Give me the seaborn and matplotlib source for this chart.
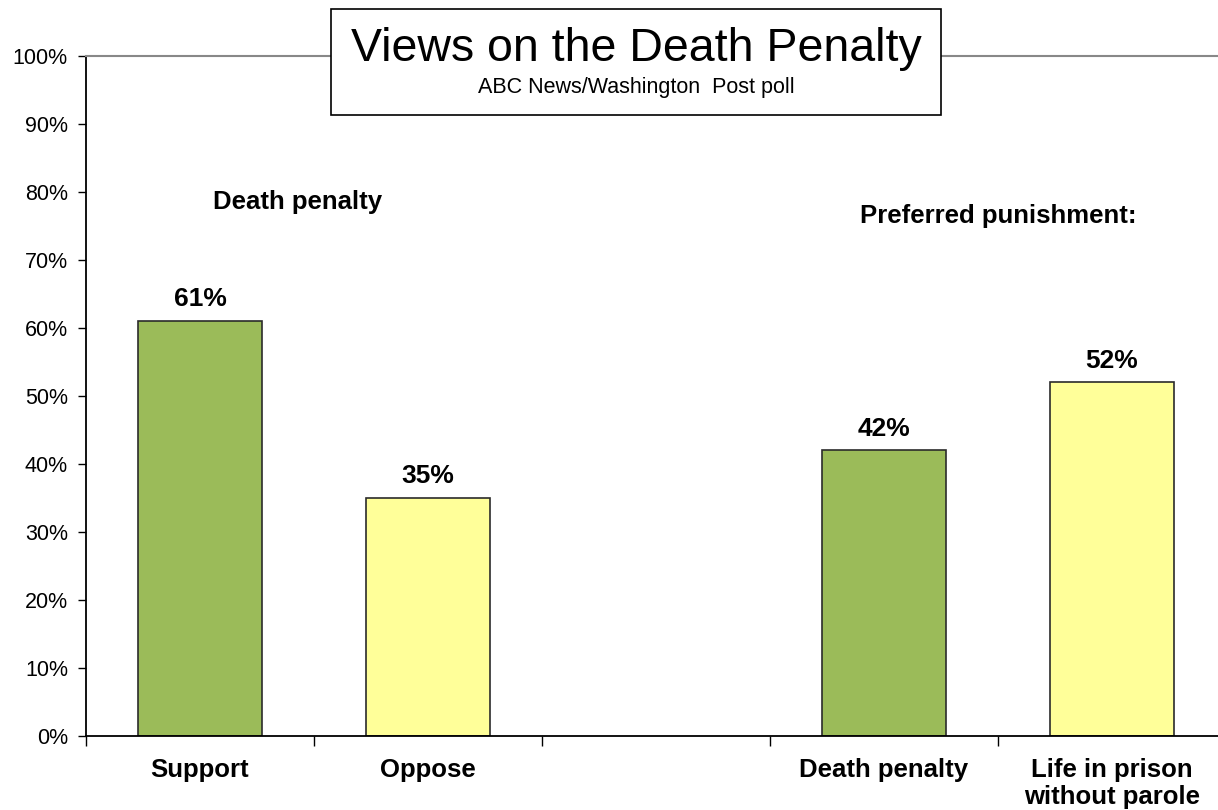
import numpy as np
import pandas as pd
import matplotlib.pyplot as plt
import seaborn as sns
from matplotlib.ticker import FixedLocator

# data
categories = ["Support", "Oppose", "Death penalty", "Life in prison\nwithout parole"]
values = [61, 35, 42, 52]
groups = ["pro", "con", "pro", "con"]
slot_order = ["Support", "Oppose", " ", "Death penalty", "Life in prison\nwithout parole"]
section_labels = ["Death penalty", "Preferred punishment:"]
y_ticks = [0, 10, 20, 30, 40, 50, 60, 70, 80, 90, 100]

sns.set_style("white")
plt.rcParams['font.family'] = ['Liberation Sans', 'DejaVu Sans']
plt.rcParams['text.color'] = 'black'
plt.rcParams['xtick.color'] = 'black'
plt.rcParams['ytick.color'] = 'black'

df = pd.DataFrame({"category": categories, "value": values, "group": groups})

fig = plt.figure(figsize=(12.18, 8.10), dpi=100)
ax = fig.add_axes([86 / 1218, 1 - 736 / 810, 1140 / 1218, 680 / 810])

sns.barplot(data=df, x="category", y="value", hue="group", order=slot_order,
            palette={"pro": "#9BBB59", "con": "#FFFF99"}, dodge=False, saturation=1,
            width=0.545, edgecolor="#2b2b2b", linewidth=1.2, legend=False, ax=ax)

for cont in ax.containers:
    ax.bar_label(cont, fmt="%d%%", padding=7, fontsize=19, fontweight="bold", color="black")

ax.set_ylim(0, 100)
ax.set_xlim(-0.5, 4.5)
ax.set_yticks(y_ticks)
ax.set_yticklabels([f"{t}%" for t in y_ticks], fontsize=15.5)
ax.tick_params(axis="y", direction="out", length=6, width=1, left=True, pad=7)
ax.tick_params(axis="x", which="major", length=0, pad=15.5, labelsize=18.5)
for lab in ax.get_xticklabels():
    lab.set_fontweight("bold")
    lab.set_linespacing(1.2)
ax.xaxis.set_minor_locator(FixedLocator(np.arange(-0.5, 5, 1)))
ax.tick_params(axis="x", which="minor", direction="out", length=7, width=1, bottom=True)
ax.set_xlabel("")
ax.set_ylabel("")

for side in ["left", "bottom"]:
    ax.spines[side].set_color("black")
    ax.spines[side].set_linewidth(1.3)
ax.spines["top"].set_color("#888888")
ax.spines["top"].set_linewidth(1.5)
ax.spines["right"].set_visible(False)

ax.text(0.43, 78.5, section_labels[0], ha="center", va="center", fontsize=18.5, fontweight="bold")
ax.text(3.5, 76.5, section_labels[1], ha="center", va="center", fontsize=18.5, fontweight="bold")

# title box
fig.patches.append(plt.Rectangle((331 / 1218, 1 - 115 / 810), 610 / 1218, 106 / 810,
                                 transform=fig.transFigure, facecolor="white",
                                 edgecolor="black", linewidth=1.2, zorder=5))
fig.text(636 / 1218, 1 - 49 / 810, "Views on the Death Penalty", ha="center", va="center",
         fontsize=33.5, zorder=6)
fig.text(636 / 1218, 1 - 88 / 810, "ABC News/Washington  Post poll", ha="center", va="center",
         fontsize=15.5, zorder=6)

fig.savefig("out.png", dpi=100)
